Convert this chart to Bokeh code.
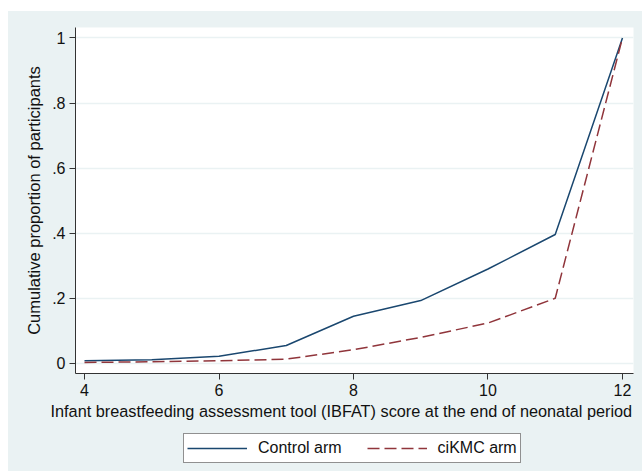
from bokeh.plotting import figure
from bokeh.models import (FixedTicker, Legend, LegendItem, Range1d, Spacer, Title)
from bokeh.layouts import column, row
from bokeh.embed import file_html
from bokeh.resources import INLINE

scores = [4, 5, 6, 7, 8, 9, 10, 11, 12]
control = [0.008, 0.011, 0.022, 0.055, 0.145, 0.193, 0.290, 0.396, 1.0]
cikmc = [0.003, 0.005, 0.008, 0.013, 0.042, 0.080, 0.124, 0.200, 1.0]
x_ticks = [4, 6, 8, 10, 12]
y_ticks = [0, 0.2, 0.4, 0.6, 0.8, 1.0]
y_tick_labels = ["0", ".2", ".4", ".6", ".8", "1"]
series_names = ["Control arm", "ciKMC arm"]
x_title = "Infant breastfeeding assessment tool (IBFAT) score at the end of neonatal period"
y_title = "Cumulative proportion of participants"

BG = "#EAF2F3"
FONT = "Liberation Sans"
BLUE = "#1A476F"
RED = "#90353B"
DASH = "12 5"

p = figure(width=634, height=422, output_backend="svg", toolbar_location=None,
           x_range=Range1d(3.866, 12.164), y_range=Range1d(-0.031, 1.032),
           min_border_left=67, min_border_right=9, min_border_top=16, min_border_bottom=60,
           background_fill_color="white", border_fill_color=BG, outline_line_color=None)

for ax in (p.xaxis[0], p.yaxis[0]):
    ax.axis_line_color = "#333333"
    ax.major_tick_line_color = "#333333"
    ax.major_tick_out = 6
    ax.major_tick_in = 0
    ax.minor_tick_line_color = None
    ax.major_label_text_font = FONT
    ax.major_label_text_font_size = "16px"
    ax.major_label_text_color = "#111111"
    ax.axis_label_text_font = FONT
    ax.axis_label_text_font_size = "16.5px"
    ax.axis_label_text_font_style = "normal"
    ax.axis_label_text_color = "#111111"

p.xaxis.ticker = FixedTicker(ticks=x_ticks)
p.yaxis.ticker = FixedTicker(ticks=y_ticks)
p.yaxis.major_label_overrides = {t: l for t, l in zip(y_ticks, y_tick_labels)}
p.yaxis.major_label_orientation = "horizontal"
p.yaxis.axis_label = y_title
p.xaxis.major_label_standoff = 4
p.yaxis.major_label_standoff = 4
p.yaxis.axis_label_standoff = 6

# x-axis title as a below-panel title so it can be shifted left like the original
p.add_layout(Title(text=x_title, align="left", offset=-25, standoff=2,
                   text_font=FONT, text_font_size="16.3px", text_font_style="normal",
                   text_color="#111111"), "below")

p.xgrid.grid_line_color = None
p.ygrid.ticker = FixedTicker(ticks=y_ticks)
p.ygrid.grid_line_color = BG
p.ygrid.grid_line_width = 1.5

p.line(scores, control, line_color=BLUE, line_width=1.5)
p.line(scores, cikmc, line_color=RED, line_width=1.5, line_dash=DASH)

# Separate small figure holding only the legend box
lf = figure(width=343, height=30, output_backend="svg", toolbar_location=None,
            x_range=Range1d(100, 101), y_range=Range1d(100, 101),
            min_border=0, min_border_left=0, min_border_right=0,
            min_border_top=0, min_border_bottom=0,
            background_fill_color=BG, border_fill_color=BG, outline_line_color=None)
lf.axis.visible = False
lf.grid.visible = False
l1 = lf.line(scores, control, line_color=BLUE, line_width=1.5)
l2 = lf.line(scores, cikmc, line_color=RED, line_width=1.5, line_dash=DASH)
legend = Legend(items=[LegendItem(label=series_names[0], renderers=[l1]),
                       LegendItem(label=series_names[1], renderers=[l2])],
                orientation="horizontal", location="top_left",
                glyph_width=60, glyph_height=22, label_height=22,
                label_standoff=11, spacing=25, padding=3, margin=0,
                label_text_font=FONT, label_text_font_size="16px",
                label_text_color="#111111",
                border_line_color="#222222", border_line_width=1,
                background_fill_color="white", background_fill_alpha=1.0)
lf.add_layout(legend, "center")

inner = column(p,
               row(Spacer(width=175, height=30), lf, spacing=0),
               Spacer(width=634, height=8),
               spacing=0, styles={"background-color": BG})
layout = row(Spacer(width=8, height=460),
             column(Spacer(width=634, height=11), inner, spacing=0),
             spacing=0)
open("out.html", "w").write(file_html(layout, INLINE))
